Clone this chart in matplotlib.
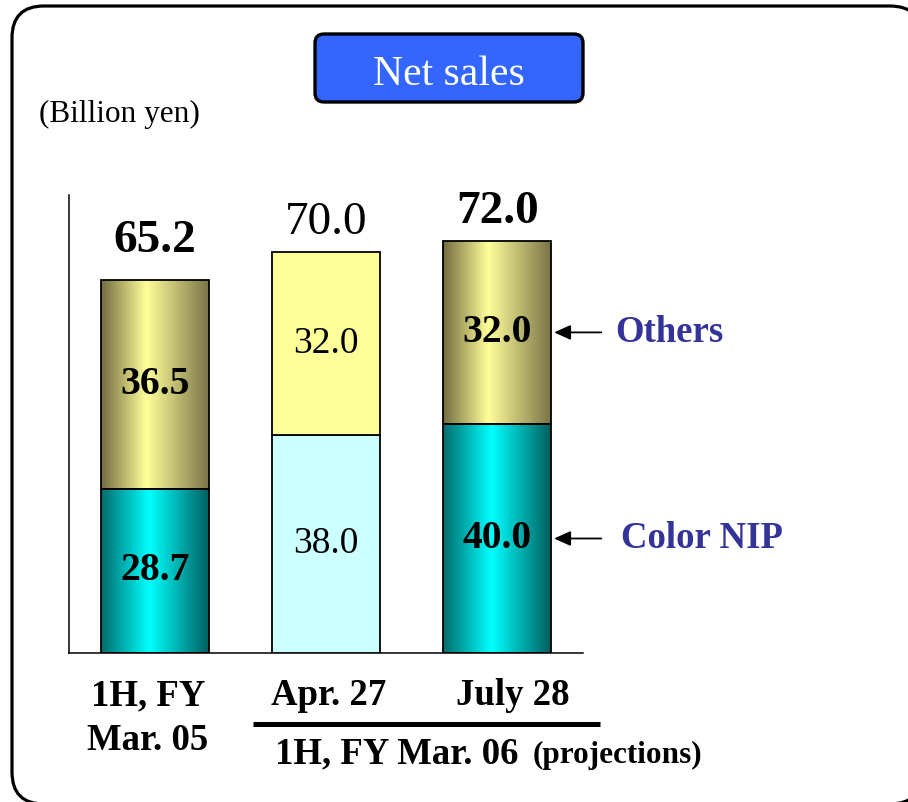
import matplotlib.pyplot as plt
import numpy as np
from matplotlib.colors import LinearSegmentedColormap
from matplotlib.patches import FancyBboxPatch, Rectangle

# ---------------- data ----------------
periods = ['1H, FY\nMar. 05', 'Apr. 27', 'July 28']
color_nip = [28.7, 38.0, 40.0]
others = [36.5, 32.0, 32.0]
totals = [65.2, 70.0, 72.0]
series_names = ['Color NIP', 'Others']
shaded = [True, False, True]          # actual / latest forecast drawn as cylinders
title = 'Net sales'
unit_label = '(Billion yen)'
group_label = '1H, FY Mar. 06'
group_note = '(projections)'

# ---------------- style ----------------
serif = 'Liberation Serif'
plt.rcParams['font.family'] = serif
label_blue = '#333399'
flat_colors = ['#ccffff', '#ffff99']
cmap_nip = LinearSegmentedColormap.from_list(
    'nip', [(0, '#006c6c'), (0.45, '#00ffff'), (1, '#005f5f')])
cmap_oth = LinearSegmentedColormap.from_list(
    'oth', [(0, '#726c40'), (0.42, '#ffff99'), (1, '#7a7448')])
grad = np.linspace(0, 1, 256).reshape(1, -1)

fig = plt.figure(figsize=(9.08, 8.02), dpi=100)

# background layer in pixel coordinates (frame, title box, notes)
bg = fig.add_axes([0, 0, 1, 1])
bg.set_xlim(0, 908)
bg.set_ylim(802, 0)
bg.axis('off')
bg.add_patch(FancyBboxPatch((12, 6), 910, 798, boxstyle='round,pad=0,rounding_size=32',
                            fc='white', ec='black', lw=2.3))
bg.add_patch(FancyBboxPatch((315, 34), 268, 68, boxstyle='round,pad=0,rounding_size=9',
                            fc='#3366ff', ec='black', lw=2.4))
bg.text(449, 85, title, color='white', fontsize=30, ha='center', va='baseline')
bg.text(39, 122, unit_label, fontsize=22.5, ha='left', va='baseline')
bg.plot([253, 600], [724, 724], color='black', lw=3.6, solid_capstyle='butt')
bg.text(275, 763, group_label, fontsize=26.5, fontweight='bold', ha='left', va='baseline')
bg.text(533, 763, group_note, fontsize=22.5, fontweight='bold', ha='left', va='baseline')

# main chart
ax = fig.add_axes([69 / 908, 149 / 802, 514 / 908, 458 / 802])
ax.patch.set_alpha(0)
x = np.arange(len(periods))
w = 0.63

for i in range(len(periods)):
    segs = [(0, color_nip[i], cmap_nip, flat_colors[0]),
            (color_nip[i], others[i], cmap_oth, flat_colors[1])]
    weight = 'bold' if shaded[i] else 'normal'
    for bottom, h, cm, fc in segs:
        rect = Rectangle((x[i] - w / 2, bottom), w, h, fc=fc if not shaded[i] else 'none',
                         ec='black', lw=1.3, zorder=3)
        ax.add_patch(rect)
        if shaded[i]:
            im = ax.imshow(grad, cmap=cm, aspect='auto', zorder=2,
                           extent=[x[i] - w / 2, x[i] + w / 2, bottom, bottom + h])
            im.set_clip_path(rect)
        ax.text(x[i], bottom + h / 2, f'{h:.1f}', ha='center', va='center',
                fontsize=28.5 if shaded[i] else 27, fontweight=weight, zorder=4)
    ax.annotate(f'{totals[i]:.1f}', (x[i], totals[i]), xytext=(0, 20 if i == 0 else 13),
                textcoords='offset points', ha='center', va='baseline',
                fontsize=34, fontweight=weight)

# category labels
label_dx = [-5, 2, 11]
for i, lab in enumerate(periods):
    ax.annotate(lab, (x[i], 0), xytext=(label_dx[i], -18), textcoords='offset points',
                ha='center', va='top', fontsize=26.5, fontweight='bold',
                linespacing=1.38, annotation_clip=False)

# series call-outs on the last bar
last = len(periods) - 1
for val_bottom, h, name, dx in [(0, color_nip[last], series_names[0], 50),
                                (color_nip[last], others[last], series_names[1], 46)]:
    mid = val_bottom + h / 2
    ax.annotate('', xy=(x[last] + w / 2, mid), xytext=(36, 0), textcoords='offset points',
                arrowprops=dict(arrowstyle='-|>,head_length=1.0,head_width=0.45',
                                color='black', lw=1.3, mutation_scale=10,
                                shrinkA=0, shrinkB=2),
                annotation_clip=False)
    ax.annotate(name, (x[last] + w / 2, mid), xytext=(dx, 0), textcoords='offset points',
                ha='left', va='center', fontsize=26.5, fontweight='bold',
                color=label_blue, annotation_clip=False)

ax.set_xlim(-0.5, 2.5)
ax.set_ylim(0, 80)
ax.set_xticks([])
ax.set_yticks([])
for s in ['top', 'right']:
    ax.spines[s].set_visible(False)
for s in ['left', 'bottom']:
    ax.spines[s].set_linewidth(1.1)

fig.savefig('out.png', dpi=100)
